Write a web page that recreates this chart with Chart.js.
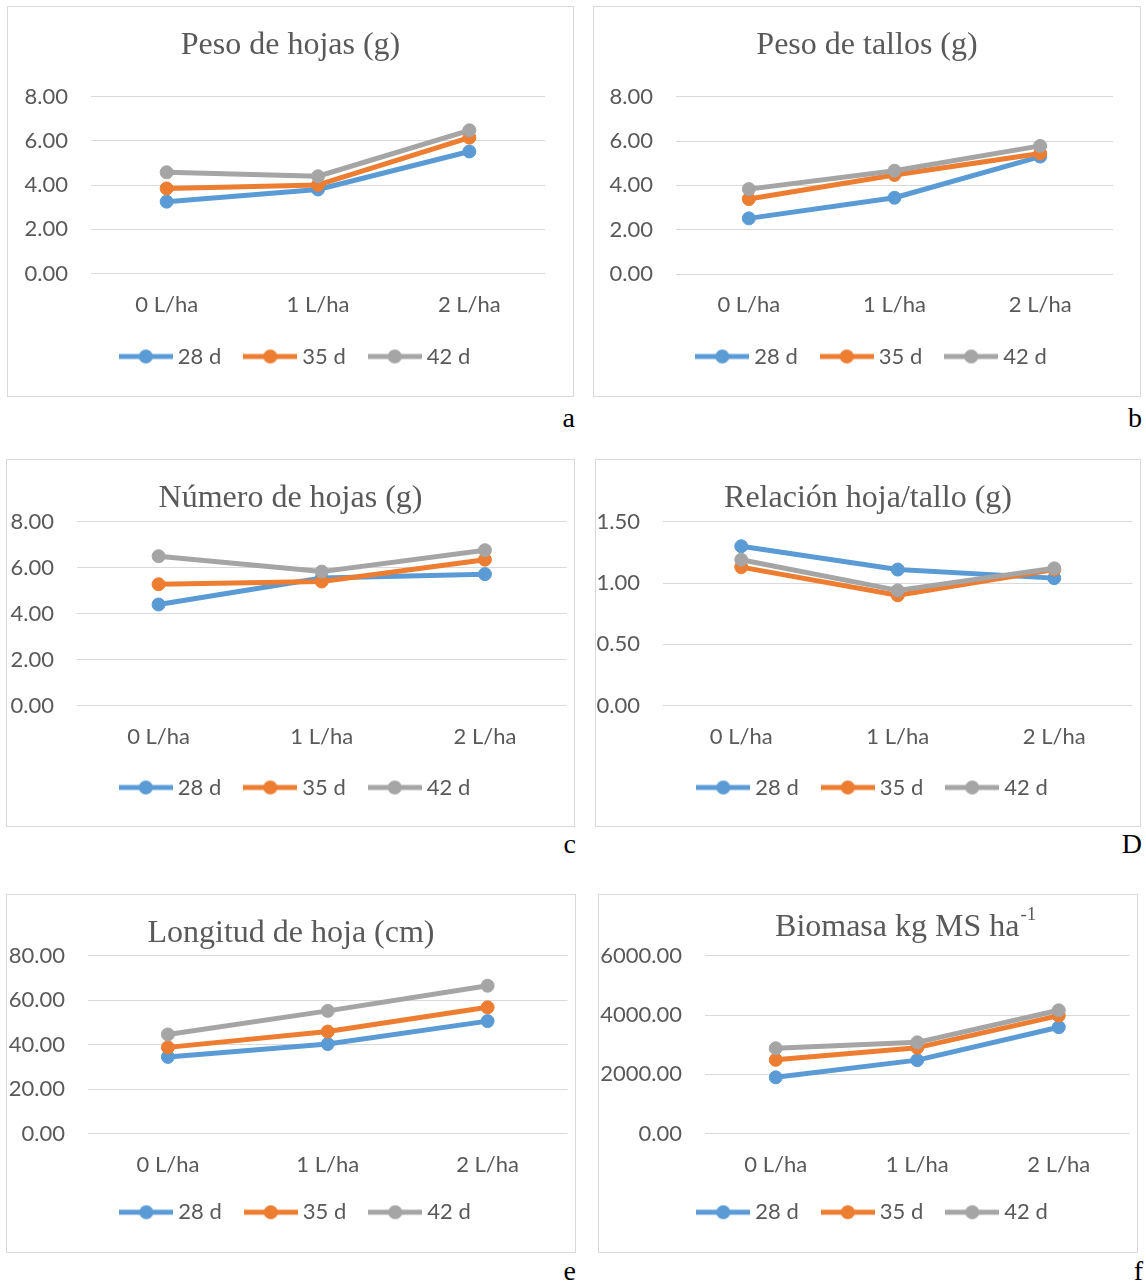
<!DOCTYPE html>
<html>
<head>
<meta charset="utf-8">
<script src="https://cdn.jsdelivr.net/npm/chart.js@4.4.1/dist/chart.umd.min.js"></script>
<style>
html, body { margin: 0; padding: 0; background: #fff; }
body { width: 1146px; height: 1285px; position: relative; overflow: hidden; }
.panel { position: absolute; border: 1px solid #d9d9d9; box-sizing: border-box; background: #fff; }
.panel canvas { display: block; }
.tag { position: absolute; font-family: "Liberation Serif", "Times New Roman", serif; font-size: 28px; line-height: 1; color: #000; text-align: right; }
</style>
</head>
<body>
<script>
// ---- data ----
const categories = ['0 L/ha', '1 L/ha', '2 L/ha'];
const seriesLabels = ['28 d', '35 d', '42 d'];
const seriesColors = ['#5B9BD5', '#ED7D31', '#A5A5A5'];

// a) Peso de hojas (g)
const pesoHojas28 = [3.25, 3.80, 5.52];
const pesoHojas35 = [3.85, 4.01, 6.15];
const pesoHojas42 = [4.58, 4.40, 6.48];
const pesoHojasTicks = [0, 2, 4, 6, 8];

// b) Peso de tallos (g)
const pesoTallos28 = [2.51, 3.44, 5.30];
const pesoTallos35 = [3.38, 4.47, 5.44];
const pesoTallos42 = [3.83, 4.66, 5.78];
const pesoTallosTicks = [0, 2, 4, 6, 8];

// c) Número de hojas
const numHojas28 = [4.40, 5.55, 5.72];
const numHojas35 = [5.28, 5.40, 6.35];
const numHojas42 = [6.50, 5.83, 6.76];
const numHojasTicks = [0, 2, 4, 6, 8];

// D) Relación hoja/tallo
const relacion28 = [1.30, 1.11, 1.04];
const relacion35 = [1.13, 0.90, 1.11];
const relacion42 = [1.19, 0.94, 1.12];
const relacionTicks = [0, 0.5, 1.0, 1.5];

// e) Longitud de hoja (cm)
const longitud28 = [34.5, 40.3, 50.6];
const longitud35 = [38.8, 45.9, 56.8];
const longitud42 = [44.6, 55.2, 66.5];
const longitudTicks = [0, 20, 40, 60, 80];

// f) Biomasa kg MS ha-1
const biomasa28 = [1900, 2480, 3590];
const biomasa35 = [2490, 2900, 3980];
const biomasa42 = [2880, 3080, 4160];
const biomasaTicks = [0, 2000, 4000, 6000];

// ---- styling ----
const TEXT = '#595959', GRID = '#D9D9D9';
const TITLE_FONT = 'Liberation Serif', TITLE_SIZE = 32, TITLE_LH = 1.2;
const SANS = 'Lato', TICK_SIZE = 22, LEG_SIZE = 22, LEG_PAD = 28, LEG_BOX = 42, LEG_SHIFT = 7;

const panels = [
  { tag: 'a', title: 'Peso de hojas (g)', series: [pesoHojas28, pesoHojas35, pesoHojas42], ticks: pesoHojasTicks,
    box: [7, 6, 574, 397], area: [91, 96.7, 545, 273.5], titleMid: 45.9, legendMid: 356.5, tagPos: [575, 427] },
  { tag: 'b', title: 'Peso de tallos (g)', series: [pesoTallos28, pesoTallos35, pesoTallos42], ticks: pesoTallosTicks,
    box: [593, 6, 1141, 397], area: [676, 96.7, 1113, 274], titleMid: 45.9, legendMid: 356.5, tagPos: [1142, 427] },
  { tag: 'c', title: 'Número de hojas (g)', series: [numHojas28, numHojas35, numHojas42], ticks: numHojasTicks,
    box: [6, 459, 575, 827], area: [77, 521.7, 574, 705.7], titleMid: 498.2, legendMid: 787.5, tagPos: [576, 853] },
  { tag: 'D', title: 'Relación hoja/tallo (g)', series: [relacion28, relacion35, relacion42], ticks: relacionTicks,
    box: [595, 459, 1141, 827], area: [663, 521.7, 1140, 705.7], titleMid: 498.2, legendMid: 787.5, tagPos: [1142, 853] },
  { tag: 'e', title: 'Longitud de hoja (cm)', series: [longitud28, longitud35, longitud42], ticks: longitudTicks,
    box: [6, 894, 576, 1253], area: [88, 955.7, 575, 1133.7], titleMid: 933.2, legendMid: 1212.2, tagPos: [576, 1280] },
  { tag: 'f', title: 'Biomasa kg MS ha     ', sup: '-1', series: [biomasa28, biomasa35, biomasa42], ticks: biomasaTicks,
    box: [598, 894, 1138, 1253], area: [705, 955.7, 1137, 1133.7], titleMid: 927.5, legendMid: 1212.2, tagPos: [1143, 1280], titleOnArea: true }
];

function legendIcon(color) {
  const c = document.createElement('canvas');
  c.width = 54; c.height = 16;
  const g = c.getContext('2d');
  g.strokeStyle = color; g.lineWidth = 5; g.lineCap = 'butt';
  g.beginPath(); g.moveTo(0, 8); g.lineTo(54, 8); g.stroke();
  g.fillStyle = color;
  g.beginPath(); g.arc(27, 8, 7, 0, Math.PI * 2); g.fill();
  return c;
}
const icons = seriesColors.map(legendIcon);

const superscriptPlugin = {
  id: 'supTitle',
  afterDraw(chart, args, opts) {
    if (!opts || !opts.text) return;
    const tb = chart.titleBlock;
    const t = chart.options.plugins.title;
    const ctx = chart.ctx;
    const font = Chart.helpers.toFont(t.font);
    ctx.save();
    ctx.font = font.string;
    const full = t.text;
    const base = full.replace(/\s+$/, '');
    const fullW = ctx.measureText(full).width;
    const m = ctx.measureText(base);
    const cx = (tb.left + tb.right) / 2;
    const midY = tb.top + opts.padTop + font.lineHeight / 2;
    const baseline = midY + (m.fontBoundingBoxAscent - m.fontBoundingBoxDescent) / 2;
    const x = cx - fullW / 2 + m.width;
    ctx.font = opts.size + 'px "' + TITLE_FONT + '"';
    ctx.fillStyle = TEXT;
    ctx.textAlign = 'left';
    ctx.textBaseline = 'alphabetic';
    ctx.fillText(opts.text, x + 1, baseline - opts.raise);
    ctx.restore();
  }
};

// nudges the (full-width) legend row horizontally, as in the original layout
const legendShiftPlugin = {
  id: 'legendShift',
  afterLayout(chart, args, opts) {
    const lg = chart.legend;
    if (lg && opts && opts.dx) { lg.left += opts.dx; lg.right += opts.dx; }
  }
};

panels.forEach(p => {
  const [L, T, R, B] = p.box;
  const div = document.createElement('div');
  div.className = 'panel';
  div.style.left = L + 'px'; div.style.top = T + 'px';
  div.style.width = (R - L) + 'px'; div.style.height = (B - T) + 'px';
  const canvas = document.createElement('canvas');
  const cw = R - L - 2, ch = B - T - 2;
  canvas.width = cw; canvas.height = ch;
  canvas.style.width = cw + 'px'; canvas.style.height = ch + 'px';
  div.appendChild(canvas);
  document.body.appendChild(div);

  const cL = L + 1, cT = T + 1, cR = R - 1, cB = B - 1;
  const [aL, aT, aR, aB] = p.area;
  const lh = TITLE_SIZE * TITLE_LH;
  const rightGap = Math.max(0, cR - aR);
  const yW = aL - cL;
  const tPadTop = p.titleMid - cT - lh / 2;
  const tPadBottom = aT - cT - tPadTop - lh;
  const padB = cB - p.legendMid - 10 - LEG_SIZE / 2;
  const legendH = LEG_SIZE + LEG_PAD + 10;
  const xH = cB - padB - legendH - aB;
  const tickArr = p.ticks;

  const scales = {
    x: {
      offset: true,
      grid: { display: false, drawTicks: false, offset: true },
      border: { display: false },
      ticks: { color: TEXT, font: { family: SANS, size: TICK_SIZE }, padding: 18, maxRotation: 0, autoSkip: false },
      afterFit: s => { s.height = xH; }
    },
    y: {
      min: tickArr[0], max: tickArr[tickArr.length - 1],
      grid: { color: GRID, lineWidth: 1, drawTicks: false },
      border: { display: false },
      ticks: { color: TEXT, font: { family: SANS, size: TICK_SIZE }, padding: 23, callback: v => Number(v).toFixed(2) },
      afterBuildTicks: s => { s.ticks = tickArr.map(v => ({ value: v })); },
      afterFit: s => { s.width = yW; }
    }
  };
  if (rightGap > 0) {
    // empty right-hand spacer axis: keeps the plot narrower than the box
    scales.ySpacer = {
      position: 'right', display: true,
      grid: { display: false, drawTicks: false }, border: { display: false },
      ticks: { display: false },
      afterFit: s => { s.width = rightGap; }
    };
  }

  new Chart(canvas, {
    type: 'line',
    data: {
      labels: categories,
      datasets: p.series.map((vals, i) => ({
        label: seriesLabels[i],
        data: vals,
        yAxisID: 'y',
        borderColor: seriesColors[i],
        backgroundColor: seriesColors[i],
        pointBackgroundColor: seriesColors[i],
        pointBorderColor: seriesColors[i],
        borderWidth: 5,
        pointRadius: 6.5,
        pointBorderWidth: 1,
        pointHoverRadius: 6.5,
        tension: 0,
        fill: false,
        borderJoinStyle: 'round',
        borderCapStyle: 'round',
        order: 3 - i
      }))
    },
    options: {
      responsive: false,
      animation: false,
      devicePixelRatio: 1,
      events: [],
      layout: { padding: { left: 0, right: 0, top: 0, bottom: padB } },
      plugins: {
        title: {
          display: true, text: p.title, fullSize: !p.titleOnArea, color: TEXT,
          font: { family: TITLE_FONT, size: TITLE_SIZE, lineHeight: TITLE_LH, weight: 'normal' },
          padding: { top: tPadTop, bottom: tPadBottom }
        },
        legend: {
          position: 'bottom',
          labels: {
            usePointStyle: true, pointStyleWidth: LEG_BOX, padding: LEG_PAD, color: TEXT,
            font: { family: SANS, size: LEG_SIZE },
            generateLabels: chart => chart.data.datasets.map((ds, i) => ({
              text: ds.label, pointStyle: icons[i], fillStyle: ds.borderColor, strokeStyle: ds.borderColor,
              lineWidth: 0, hidden: false, datasetIndex: i, fontColor: TEXT
            }))
          }
        },
        tooltip: { enabled: false },
        legendShift: { dx: LEG_SHIFT },
        supTitle: p.sup ? { text: p.sup, size: 19, raise: 10.5, padTop: tPadTop } : false
      },
      scales
    },
    plugins: [superscriptPlugin, legendShiftPlugin]
  });

  const tag = document.createElement('div');
  tag.className = 'tag';
  tag.textContent = p.tag;
  tag.style.right = (1146 - p.tagPos[0]) + 'px';
  tag.style.top = (p.tagPos[1] - 23.45) + 'px';
  document.body.appendChild(tag);
});
</script>
</body>
</html>
